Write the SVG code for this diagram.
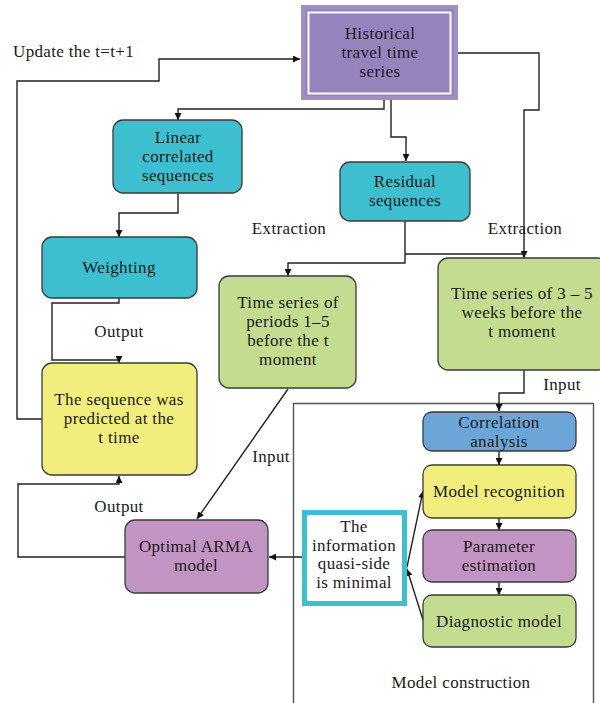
<svg xmlns="http://www.w3.org/2000/svg" width="600" height="703" viewBox="0 0 600 703">
  <style>
    text { font-family: "Liberation Serif", "DejaVu Serif", serif; font-size: 17px; letter-spacing: 0.35px; fill: #1a1a1a; text-anchor: middle; }
    .lbl { text-anchor: start; }
    .box { stroke: #3a3a3a; stroke-width: 1.3; }
    .teal { fill: #3dbfcf; }
    .yellow { fill: #f2ee7e; }
    .green { fill: #c4dc90; }
    .violet { fill: #c194c4; }
    .blue { fill: #6ca5d7; }
    .wire { fill: none; stroke: #222; stroke-width: 1.4; }
  </style>
  <defs>
    <marker id="arr" viewBox="0 0 10 10" refX="10" refY="5" markerWidth="7" markerHeight="7" markerUnits="userSpaceOnUse" orient="auto">
      <path d="M0,0 L10,5 L0,10 z" fill="#111"/>
    </marker>
  </defs>

  <rect width="600" height="703" fill="#fff"/>

  <!-- model construction frame (open at the bottom) -->
  <g id="frame">
    <path d="M293.5,703 V403.5 H593.5 V703" fill="none" stroke="#555" stroke-width="1.4"/>
    <text x="461" y="688">Model construction</text>
  </g>

  <!-- connectors -->
  <g id="connectors">
    <path class="wire" d="M42,419 H17 V81 H159 V59 H300" marker-end="url(#arr)"/>
    <path class="wire" d="M384,100 V109 H178 V120" marker-end="url(#arr)"/>
    <path class="wire" d="M391,100 V137 H406 V161" marker-end="url(#arr)"/>
    <path class="wire" d="M458,53 H539 V110 H524 V258" marker-end="url(#arr)"/>
    <path class="wire" d="M178,193 V213 H119 V237" marker-end="url(#arr)"/>
    <path class="wire" d="M119,298 V303 H52 V360 H119 V363" marker-end="url(#arr)"/>
    <path class="wire" d="M405,221 V263 H288 V276" marker-end="url(#arr)"/>
    <path class="wire" d="M405,254 H524"/>
    <path class="wire" d="M524,370 V393 H499 V411" marker-end="url(#arr)"/>
    <path class="wire" d="M288,389 L197,519" marker-end="url(#arr)"/>
    <path class="wire" d="M125,557 H18 V484 H119 V476" marker-end="url(#arr)"/>
    <path class="wire" d="M302,557 H269" marker-end="url(#arr)"/>
    <path class="wire" d="M499,451 V465" marker-end="url(#arr)"/>
    <path class="wire" d="M499,518 V530" marker-end="url(#arr)"/>
    <path class="wire" d="M499,582 V595" marker-end="url(#arr)"/>
    <path class="wire" d="M407,567 L423,491" marker-end="url(#arr)"/>
    <path class="wire" d="M423,620 L407,569" marker-end="url(#arr)"/>
    <text class="lbl" x="13" y="57">Update the t=t+1</text>
    <text x="289" y="234">Extraction</text>
    <text x="525" y="234">Extraction</text>
    <text x="119" y="337">Output</text>
    <text x="119" y="512">Output</text>
    <text x="271" y="462">Input</text>
    <text x="562" y="390">Input</text>
  </g>

  <g id="historical">
    <rect x="303" y="7" width="153" height="91" fill="#9683bd" stroke="#a08fc6" stroke-width="4"/>
    <rect x="308.5" y="12.5" width="142" height="81" fill="none" stroke="#fff" stroke-width="2"/>
    <text x="380" y="39">Historical</text>
    <text x="380" y="58">travel time</text>
    <text x="380" y="77">series</text>
  </g>

  <g id="linear">
    <rect class="box teal" x="113" y="120" width="129" height="73" rx="10"/>
    <text x="178" y="143">Linear</text>
    <text x="178" y="162">correlated</text>
    <text x="178" y="181">sequences</text>
  </g>

  <g id="residual">
    <rect class="box teal" x="340" y="162" width="130" height="59" rx="10"/>
    <text x="405" y="187">Residual</text>
    <text x="405" y="206">sequences</text>
  </g>

  <g id="weighting">
    <rect class="box teal" x="42" y="237" width="155" height="61" rx="10"/>
    <text x="119" y="273">Weighting</text>
  </g>

  <g id="predicted">
    <rect class="box yellow" x="42" y="363" width="155" height="112" rx="10"/>
    <text x="119" y="405">The sequence was</text>
    <text x="119" y="424">predicted at the</text>
    <text x="119" y="443">t time</text>
  </g>

  <g id="periods">
    <rect class="box green" x="219" y="276" width="137" height="112" rx="10"/>
    <text x="288" y="308">Time series of</text>
    <text x="288" y="327">periods 1–5</text>
    <text x="288" y="346">before the t</text>
    <text x="288" y="365">moment</text>
  </g>

  <g id="weeks">
    <rect class="box green" x="438" y="258" width="170" height="112" rx="10"/>
    <text x="522" y="299">Time series of 3 – 5</text>
    <text x="522" y="318">weeks before the</text>
    <text x="522" y="337">t moment</text>
  </g>

  <g id="arma">
    <rect class="box violet" x="125" y="520" width="143" height="73" rx="10"/>
    <text x="196" y="552">Optimal ARMA</text>
    <text x="196" y="571">model</text>
  </g>

  <g id="correlation">
    <rect class="box blue" x="423" y="412" width="153" height="39" rx="9"/>
    <text x="499" y="428">Correlation</text>
    <text x="499" y="447">analysis</text>
  </g>

  <g id="recognition">
    <rect class="box yellow" x="423" y="465" width="153" height="53" rx="9"/>
    <text x="499" y="497">Model recognition</text>
  </g>

  <g id="parameter">
    <rect class="box violet" x="423" y="530" width="153" height="52" rx="9"/>
    <text x="499" y="552">Parameter</text>
    <text x="499" y="571">estimation</text>
  </g>

  <g id="diagnostic">
    <rect class="box green" x="423" y="595" width="153" height="52" rx="9"/>
    <text x="499" y="627">Diagnostic model</text>
  </g>

  <g id="information">
    <rect x="304.5" y="512.5" width="100" height="91" fill="#fff" stroke="#3dbfcf" stroke-width="5"/>
    <text x="354" y="532">The</text>
    <text x="354" y="550.5">information</text>
    <text x="354" y="569">quasi-side</text>
    <text x="354" y="587.5">is minimal</text>
  </g>
</svg>
